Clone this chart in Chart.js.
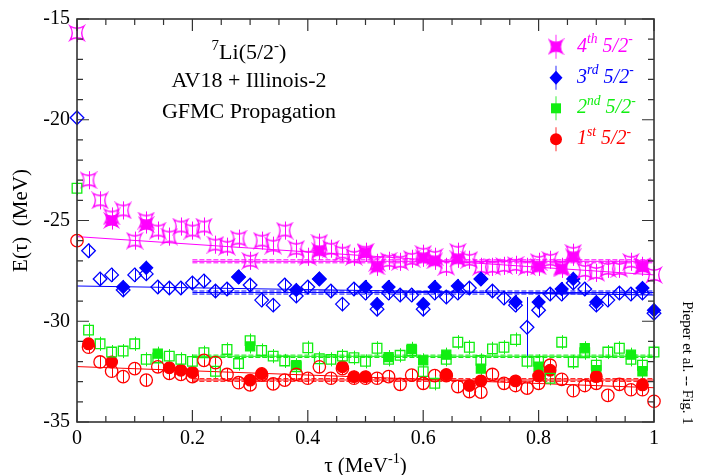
<!DOCTYPE html>
<html><head><meta charset="utf-8">
<script src="https://cdn.jsdelivr.net/npm/chart.js@4/dist/chart.umd.min.js"></script>
<style>html,body{margin:0;padding:0;background:#fff;}#wrap{width:706px;height:475px;}</style>
</head><body><div id="wrap"><canvas id="c" width="706" height="475"></canvas></div>
<script>
// ---------- data ----------
const tau = [0,0.02,0.04,0.06,0.08,0.1,0.12,0.14,0.16,0.18,0.2,0.22,0.24,0.26,0.28,0.3,0.32,0.34,0.36,0.38,0.4,0.42,0.44,0.46,0.48,0.5,0.52,0.54,0.56,0.58,0.6,0.62,0.64,0.66,0.68,0.7,0.72,0.74,0.76,0.78,0.8,0.82,0.84,0.86,0.88,0.9,0.92,0.94,0.96,0.98,1];
const e4 = [-15.7,-23.0,-24.0,-24.8,-24.5,-26.0,-25.0,-25.5,-25.8,-25.3,-25.5,-25.3,-26.2,-26.3,-25.9,-27.0,-26.0,-26.25,-25.5,-26.4,-26.8,-26.1,-26.4,-26.6,-26.8,-26.55,-27.1,-27.0,-27.05,-26.9,-26.65,-26.8,-27.3,-26.55,-26.95,-27.3,-27.3,-27.25,-27.2,-27.3,-27.05,-26.95,-27.3,-26.6,-27.5,-27.6,-27.4,-27.4,-27.05,-27.25,-27.7];
const e3 = [-19.9,-26.5,-27.9,-27.7,-28.45,-27.7,-27.65,-28.3,-28.35,-28.35,-28.1,-28.0,-28.5,-28.4,-27.8,-28.2,-28.95,-29.2,-28.2,-28.75,-28.3,-27.9,-28.5,-29.15,-28.4,-28.6,-29.4,-28.6,-28.7,-28.7,-29.4,-28.6,-28.8,-28.6,-28.35,-27.9,-28.5,-28.85,-29.2,-30.3,-29.45,-28.65,-28.65,-28.1,-28.4,-29.2,-28.95,-28.6,-28.65,-28.6,-29.6];
const e2 = [-23.4,-30.44,-31.12,-31.53,-31.48,-31.12,-31.89,-31.82,-31.73,-31.89,-31.99,-31.56,-32.48,-31.40,-32.10,-30.96,-31.45,-31.73,-31.97,-32.26,-31.32,-31.86,-31.89,-31.73,-31.81,-31.99,-31.34,-31.89,-31.69,-31.45,-32.5,-33.08,-31.89,-31.04,-31.29,-31.94,-31.37,-31.29,-30.91,-31.99,-31.99,-32.83,-31.04,-32.02,-31.56,-32.18,-31.53,-31.34,-31.89,-32.18,-31.53];
const e1 = [-26.0,-31.29,-32.02,-32.48,-32.75,-32.35,-32.92,-32.26,-32.59,-32.64,-32.75,-31.94,-32.05,-32.64,-33.05,-33.16,-32.67,-33.11,-32.92,-32.64,-32.83,-32.26,-32.83,-32.35,-32.83,-32.83,-32.83,-32.75,-33.13,-32.67,-33.08,-32.70,-32.70,-33.24,-33.49,-33.52,-32.64,-33.08,-33.19,-33.32,-33.08,-32.18,-32.88,-33.45,-33.19,-33.08,-33.68,-33.13,-33.40,-33.40,-33.97];

const tauF4 = [0.06,0.12,0.42,0.5,0.52,0.6,0.62,0.66,0.8,0.84,0.86,0.98];
const e4F   = [-25.0,-25.2,-26.5,-26.6,-27.3,-26.85,-27.0,-26.9,-27.3,-27.4,-26.8,-27.3];
const tauF3 = [0.08,0.12,0.28,0.38,0.42,0.5,0.52,0.54,0.6,0.62,0.66,0.7,0.76,0.8,0.84,0.86,0.9,0.98,1];
const e3F   = [-28.3,-27.35,-27.8,-28.45,-27.9,-28.3,-29.15,-28.3,-29.15,-28.3,-28.25,-27.9,-29.05,-29.05,-28.4,-27.9,-29.05,-28.35,-29.45];
const tauF2 = [0.14,0.3,0.38,0.54,0.58,0.6,0.64,0.7,0.8,0.88,0.9,0.96,0.98];
const e2F   = [-31.61,-31.25,-32.18,-31.78,-31.37,-31.94,-31.66,-32.35,-32.26,-31.34,-32.43,-31.66,-32.48];
const tauF1 = [0.02,0.06,0.16,0.18,0.2,0.3,0.32,0.46,0.48,0.5,0.64,0.68,0.7,0.76,0.8,0.82,0.9,0.98];
const e1F   = [-31.12,-32.02,-32.31,-32.43,-32.54,-32.92,-32.59,-32.26,-32.75,-32.75,-32.64,-33.19,-32.96,-32.96,-32.72,-32.43,-32.75,-33.16];

const err4 = 0.45, err3 = 0.35, err2 = 0.35, err1 = 0.3;
const bigErrTau3 = 0.78, bigErr3 = 1.5;

const fitTau = [0, 1];
const fit4 = [-25.8, -27.7];
const fit3 = [-28.25, -28.7];
const fit1 = [-32.25, -33.3];
const bandTau = [0.2, 1];
const band4 = [-26.95, -27.1];
const band3 = [-28.5, -28.65];
const band2 = [-31.68, -31.8];
const band1 = [-32.85, -32.98];

const xTicks = [0, 0.2, 0.4, 0.6, 0.8, 1];
const yTicks = [-35, -30, -25, -20, -15];
const legendLabels = [["4","th"],["3","rd"],["2","nd"],["1","st"]];

// ---------- styles ----------
const C4 = '#ff00ff', C3 = '#0000ff', C2 = '#11ee11', C1 = '#ff0000';
const SERIF = '"Liberation Serif", "Times New Roman", serif';

function starCanvas(color, filled, R) {
  const s = Math.ceil(2 * R + 4);
  const c = document.createElement('canvas');
  c.width = s; c.height = s;
  const g = c.getContext('2d');
  const m = s / 2, k = R * 0.35;
  g.beginPath();
  g.moveTo(m - R, m - R);
  g.quadraticCurveTo(m, m - k, m + R, m - R);
  g.quadraticCurveTo(m + k, m, m + R, m + R);
  g.quadraticCurveTo(m, m + k, m - R, m + R);
  g.quadraticCurveTo(m - k, m, m - R, m - R);
  g.closePath();
  if (filled) { g.fillStyle = color; g.fill(); }
  g.strokeStyle = color; g.lineWidth = 1.3; g.stroke();
  return c;
}
const starOpen = starCanvas(C4, false, 7);
const starFill = starCanvas(C4, true, 6.5);

function pts(xs, ys) { return xs.map((x, i) => ({x: x, y: ys[i]})); }
function markerSet(xs, ys, color, style, radius, filled, err) {
  return {
    type: 'scatter', data: pts(xs, ys), clip: false,
    pointStyle: style, pointRadius: radius, pointHoverRadius: radius,
    borderColor: color, backgroundColor: filled ? color : 'rgba(0,0,0,0)',
    pointBorderWidth: 1.3, showLine: false, errs: err, errColor: color
  };
}
function lineSet(xs, ys, color, dash, width) {
  return {
    type: 'scatter', data: pts(xs, ys), showLine: true, pointRadius: 0,
    borderColor: color, borderWidth: width || 1, borderDash: dash || [], clip: false
  };
}
function bandSets(ys, color) {
  const mid = (ys[0] + ys[1]) / 2;
  return [
    lineSet(bandTau, [ys[0], ys[0]], color, [5, 2], 1),
    lineSet(bandTau, [mid, mid], color, [], 1),
    lineSet(bandTau, [ys[1], ys[1]], color, [5, 2], 1)
  ];
}
const err3Arr = tau.map(t => Math.abs(t - bigErrTau3) < 1e-9 ? bigErr3 : err3);

// Chart.js draws dataset 0 on top: open markers first, then filled, then lines.
const datasets = [
  markerSet(tau, e1, C1, 'circle', 6.2, false, err1),
  markerSet(tau, e2, C2, 'rect', 6.8, false, err2),
  markerSet(tau, e3, C3, 'rectRot', 6.8, false, err3Arr),
  markerSet(tau, e4, C4, starOpen, 7, false, err4),
  markerSet(tauF1, e1F, C1, 'circle', 5.8, true, err1),
  markerSet(tauF2, e2F, C2, 'rect', 6.4, true, err2),
  markerSet(tauF3, e3F, C3, 'rectRot', 6.4, true, err3),
  markerSet(tauF4, e4F, C4, starFill, 6.5, true, err4),
  lineSet(fitTau, fit4, C4), ...bandSets(band4, C4),
  lineSet(fitTau, fit3, C3), ...bandSets(band3, C3),
  ...bandSets(band2, C2),
  lineSet(fitTau, fit1, C1), ...bandSets(band1, C1)
];

// ---------- plugins ----------
const errorBars = {
  id: 'errorBars',
  beforeDatasetsDraw(chart) {
    const ctx = chart.ctx, xs = chart.scales.x, ys = chart.scales.y;
    chart.data.datasets.forEach(ds => {
      if (ds.errs === undefined) return;
      ctx.save();
      ctx.strokeStyle = ds.errColor; ctx.lineWidth = 1;
      ds.data.forEach((p, i) => {
        const e = Array.isArray(ds.errs) ? ds.errs[i] : ds.errs;
        const px = Math.round(xs.getPixelForValue(p.x)) + 0.5;
        ctx.beginPath();
        ctx.moveTo(px, ys.getPixelForValue(p.y + e));
        ctx.lineTo(px, ys.getPixelForValue(p.y - e));
        ctx.stroke();
      });
      ctx.restore();
    });
  }
};

function richText(ctx, parts, x, y, align, size, italic, color) {
  const f = (s) => (italic ? 'italic ' : '') + s + 'px ' + SERIF;
  let w = 0;
  parts.forEach(p => { ctx.font = f(p.sup ? size * 0.68 : size); w += ctx.measureText(p.t).width; });
  let cx = align === 'center' ? x - w / 2 : (align === 'right' ? x - w : x);
  ctx.fillStyle = color; ctx.textBaseline = 'alphabetic'; ctx.textAlign = 'left';
  parts.forEach(p => {
    ctx.font = f(p.sup ? size * 0.68 : size);
    ctx.fillText(p.t, cx, p.sup ? y - size * 0.42 : y);
    cx += ctx.measureText(p.t).width;
  });
}

const frameAndText = {
  id: 'frameAndText',
  afterDraw(chart) {
    const ctx = chart.ctx, a = chart.chartArea, xs = chart.scales.x, ys = chart.scales.y;
    ctx.save();
    ctx.strokeStyle = '#333'; ctx.lineWidth = 1.6;
    ctx.strokeRect(a.left, a.top, a.right - a.left, a.bottom - a.top);
    ctx.lineWidth = 1.2;
    ctx.beginPath();
    for (let i = 0; i <= 20; i++) {
      const px = xs.getPixelForValue(i * 0.05);
      const len = (i % 4 === 0) ? 12 : 6;
      ctx.moveTo(px, a.bottom); ctx.lineTo(px, a.bottom - len);
      ctx.moveTo(px, a.top); ctx.lineTo(px, a.top + len);
    }
    for (let v = -35; v <= -15; v++) {
      const py = ys.getPixelForValue(v);
      const len = (v % 5 === 0) ? 12 : 6;
      ctx.moveTo(a.left, py); ctx.lineTo(a.left + len, py);
      ctx.moveTo(a.right, py); ctx.lineTo(a.right - len, py);
    }
    ctx.stroke();

    richText(ctx, [{t:'7', sup:true},{t:'Li(5/2'},{t:'-', sup:true},{t:')'}], 249, 59, 'center', 22, false, '#000');
    richText(ctx, [{t:'AV18 + Illinois-2'}], 249, 87, 'center', 22, false, '#000');
    richText(ctx, [{t:'GFMC Propagation'}], 249, 118, 'center', 22, false, '#000');

    const cols = [C4, C3, C2, C1];
    const lys = [46.7, 77.7, 108.3, 139.3];
    const lx = 556;
    lys.forEach((ly, i) => {
      ctx.strokeStyle = cols[i]; ctx.globalAlpha = 0.55; ctx.lineWidth = 1.5;
      ctx.beginPath(); ctx.moveTo(lx, ly - 12); ctx.lineTo(lx, ly + 12); ctx.stroke();
      ctx.globalAlpha = 1;
      ctx.fillStyle = cols[i];
      if (i === 0) ctx.drawImage(starFill, lx - starFill.width / 2, ly - starFill.height / 2);
      else if (i === 1) { ctx.beginPath(); ctx.moveTo(lx, ly - 7); ctx.lineTo(lx + 6.5, ly); ctx.lineTo(lx, ly + 7); ctx.lineTo(lx - 6.5, ly); ctx.closePath(); ctx.fill(); }
      else if (i === 2) ctx.fillRect(lx - 5, ly - 5, 10, 10);
      else { ctx.beginPath(); ctx.arc(lx, ly, 6, 0, Math.PI * 2); ctx.fill(); }
      richText(ctx, [{t:legendLabels[i][0]},{t:legendLabels[i][1], sup:true},{t:' 5/2'},{t:'-', sup:true}], 577, ly + 5, 'left', 20, true, cols[i]);
    });

    richText(ctx, [{t:'\u03C4 (MeV'},{t:'-1', sup:true},{t:')'}], (a.left + a.right) / 2, 472, 'center', 21, false, '#000');
    ctx.save();
    ctx.translate(27, (a.top + a.bottom) / 2);
    ctx.rotate(-Math.PI / 2);
    richText(ctx, [{t:'E(\u03C4)  (MeV)'}], 0, 0, 'center', 21, false, '#000');
    ctx.restore();
    ctx.save();
    ctx.translate(683, 363);
    ctx.rotate(Math.PI / 2);
    richText(ctx, [{t:'Pieper et al. -- Fig. 1'}], 0, 0, 'center', 15, false, '#000');
    ctx.restore();
    ctx.restore();
  }
};

new Chart(document.getElementById('c'), {
  type: 'scatter',
  data: { datasets: datasets },
  options: {
    responsive: false, animation: false, devicePixelRatio: 1,
    layout: { padding: { left: 0, right: 52, top: 16, bottom: 0 } },
    plugins: { legend: { display: false }, tooltip: { enabled: false } },
    scales: {
      x: {
        type: 'linear', min: 0, max: 1,
        afterBuildTicks: s => { s.ticks = xTicks.map(v => ({value: v})); },
        afterFit: s => { s.height = 53; },
        grid: { display: false, drawTicks: false }, border: { display: false },
        ticks: { padding: 5, color: '#000', font: { family: SERIF, size: 20 },
          callback: v => String(Number(v.toFixed(1))) }
      },
      y: {
        type: 'linear', min: -35, max: -15,
        afterBuildTicks: s => { s.ticks = yTicks.map(v => ({value: v})); },
        afterFit: s => { s.width = 77; },
        grid: { display: false, drawTicks: false }, border: { display: false },
        ticks: { padding: 7, color: '#000', font: { family: SERIF, size: 20 },
          callback: v => String(v) }
      }
    }
  },
  plugins: [errorBars, frameAndText]
});
</script>
</body></html>
